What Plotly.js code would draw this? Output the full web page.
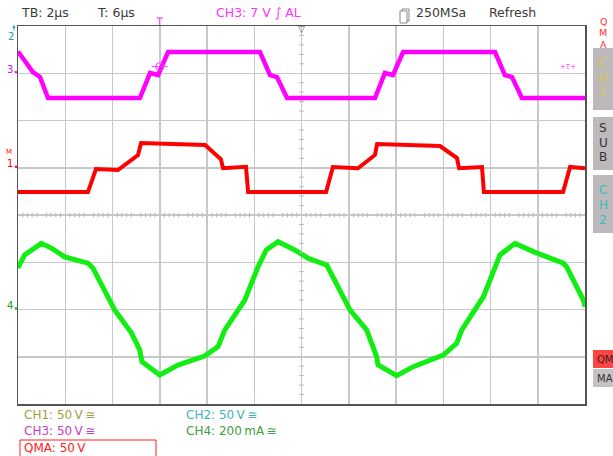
<!DOCTYPE html>
<html>
<head>
<meta charset="utf-8">
<script src="https://cdn.plot.ly/plotly-3.0.1.min.js"></script>
<style>html,body{margin:0;padding:0;background:#fff;}#chart{width:613px;height:456px;}</style>
</head>
<body>
<div id="chart"></div>
<script>
// ---- data (time in µs, relative to screen centre) ----
const ch3Time = [-12.0, -11.37, -11.07, -10.73, -6.84, -6.41, -6.07, -5.65, -1.76, -1.33, -1.04, -0.61, 3.11, 3.53, 3.87, 4.30, 8.19, 8.61, 8.91, 9.33, 12.0];
const ch3Volts = [23, 1.3, -4, -26.2, -26.2, 0.3, -1.9, 22.5, 22.5, -1.9, -4, -26.2, -26.2, 0.3, -1.9, 22.5, 22.5, -1.9, -4, -26.2, -26.2];

const ch1Time = [-12.0, -9.04, -8.70, -7.77, -6.92, -6.79, -4.08, -3.53, -3.41, -3.32, -2.35, -2.26, 1.04, 1.33, 2.39, 3.11, 3.20, 5.86, 6.58, 6.67, 7.64, 7.72, 11.07, 11.37, 12.0];
const ch1Volts = [-25.7, -25.7, -1.3, -2.4, 13.5, 26.2, 24.1, 11.4, 9, -0.5, 1, -25.7, -25.7, 0.8, -0.5, 13.5, 25.1, 23, 10.3, -0.5, 0.8, -25.7, -25.7, 0.8, -0.5];

const ch4Time = [-12.0, -11.72, -11.01, -10.59, -10.02, -9.04, -8.83, -7.91, -7.20, -6.85, -6.75, -6.00, -5.23, -4.10, -3.53, -3.25, -2.40, -1.84, -1.49, -0.99, -0.29, 0.28, 1.07, 2.05, 2.76, 3.18, 3.24, 4.03, 4.73, 6.00, 6.57, 6.78, 7.70, 8.40, 9.04, 9.81, 11.08, 11.22, 11.93, 12.0];
const ch4MilliAmps = [176, 231, 280, 260, 223, 196, 176, -2, -99, -171, -221, -277, -235, -197, -157, -87, 40, 181, 252, 287, 252, 217, 188, -2, -87, -200, -235, -280, -242, -193, -143, -87, 54, 231, 280, 245, 196, 181, 40, 12];

// channel settings
const ch1Scale = 50, ch1Offset = 1;      // V/div, div
const ch3Scale = 50, ch3Offset = 3;
const ch4Scale = 200, ch4Offset = -2;    // mA/div
const triggerTime = -6, triggerLevel = 7; // µs, V on CH3

const topLabels = ["TB: 2µs", "T: 6µs", "CH3: 7 V ∫ AL", "250MSa", "Refresh"];
const bottomLabels = ["CH1: 50\u2009V\u2009≅", "CH2: 50\u2009V\u2009≅", "CH3: 50\u2009V\u2009≅", "CH4: 200\u2009mA\u2009≅", "QMA: 50\u2009V"];

// ---- geometry helpers ----
const L = 18, R = 585, T = 26, B = 404;
const px = x => (x - L) / (R - L);
const py = y => (B - y) / (B - T);
const toDiv = (vals, scale, off) => vals.map(v => off + v / scale);

const font = "DejaVu Sans";
const traces = [
  {x: ch3Time, y: toDiv(ch3Volts, ch3Scale, ch3Offset), mode: "lines", line: {color: "#ff00ff", width: 4.5}, hoverinfo: "skip"},
  {x: ch1Time, y: toDiv(ch1Volts, ch1Scale, ch1Offset), mode: "lines", line: {color: "#ff0000", width: 4}, hoverinfo: "skip"},
  {x: ch4Time, y: toDiv(ch4MilliAmps, ch4Scale, ch4Offset), mode: "lines", line: {color: "#11ee11", width: 5}, hoverinfo: "skip"}
];

const shapes = [];
// minor ticks on centre cross
for (let k = -60; k <= 60; k++) {
  if (k % 5 === 0) continue;
  const t = k * 0.2;
  shapes.push({type: "line", xref: "x", yref: "y", x0: t, x1: t, y0: -0.05, y1: 0.05, line: {color: "#b8b8b8", width: 1}});
}
for (let k = -20; k <= 20; k++) {
  if (k % 5 === 0) continue;
  const d = k * 0.2;
  shapes.push({type: "line", xref: "x", yref: "y", x0: -0.1, x1: 0.1, y0: d, y1: d, line: {color: "#b8b8b8", width: 1}});
}
// trigger circle on CH3
const trigY = ch3Offset + triggerLevel / ch3Scale;
shapes.push({type: "circle", xref: "x", yref: "y", xsizemode: "pixel", ysizemode: "pixel", xanchor: triggerTime, yanchor: trigY, x0: -4, x1: 4, y0: -4, y1: 4, line: {color: "#ff33ff", width: 1}});
shapes.push({type: "line", xref: "x", yref: "y", xsizemode: "pixel", xanchor: triggerTime, x0: -8, x1: 8, y0: trigY, y1: trigY, line: {color: "#ff33ff", width: 1}});
// top trigger position marker
shapes.push({type: "line", xref: "x", yref: "paper", x0: triggerTime, x1: triggerTime, y0: py(25), y1: py(18), line: {color: "#ff33ff", width: 1.2}});
shapes.push({type: "line", xref: "x", yref: "paper", xsizemode: "pixel", xanchor: triggerTime, x0: -3, x1: 3, y0: py(18), y1: py(18), line: {color: "#ff33ff", width: 1.2}});
// sample icon
shapes.push({type: "rect", xref: "paper", yref: "paper", x0: px(402), x1: px(409), y0: py(21), y1: py(9), line: {color: "#888", width: 1}, fillcolor: "#fff"});
shapes.push({type: "rect", xref: "paper", yref: "paper", x0: px(400), x1: px(407), y0: py(23), y1: py(11), line: {color: "#888", width: 1}, fillcolor: "#fff"});
// right panel boxes
const box = (y0, y1, fill) => ({type: "rect", xref: "paper", yref: "paper", x0: px(593), x1: px(616), y0: py(y1), y1: py(y0), line: {width: 0}, fillcolor: fill, layer: "below"});
shapes.push(box(48, 110, "#bcb8bc"), box(117, 170, "#bcb8bc"), box(175, 233, "#bcb8bc"), box(350, 368, "#ff4444"), box(369, 387, "#c4c0c4"));
// QMA red frame bottom
shapes.push({type: "rect", xref: "paper", yref: "paper", x0: px(20), x1: px(156), y0: py(462), y1: py(440), line: {color: "#ff2020", width: 1}});

const ann = [];
const txt = (x, y, s, color, size, anchor) => ann.push({xref: "paper", yref: "paper", x: px(x), y: py(y), text: s, showarrow: false, xanchor: anchor || "left", yanchor: "middle", font: {family: font, size: size || 12, color: color}});
txt(19, 13, topLabels[0], "#3a3a3a", 12.5);
txt(95, 13, topLabels[1], "#3a3a3a", 12.5);
txt(214, 13, topLabels[2], "#ff33ff", 12.5);
txt(414, 13, topLabels[3], "#3a3a3a", 12.5);
txt(487, 13, topLabels[4], "#3a3a3a", 12.5);
ann.push({xref: "x", yref: "paper", x: 0, y: py(22), text: "▽", showarrow: false, font: {family: font, size: 9, color: "#555"}});
txt(22, 415, bottomLabels[0], "#a0a040");
txt(184, 415, bottomLabels[1], "#40b4b4");
txt(22, 431, bottomLabels[2], "#c040c8");
txt(184, 431, bottomLabels[3], "#40a040");
txt(22, 448, bottomLabels[4], "#ff2020");
// right panel letters
[["Q", 22], ["M", 33], ["A", 44]].forEach(a => txt(603, a[1], a[0], "#ff3030", 9.5, "center"));
[["C", 63], ["H", 78], ["1", 92]].forEach(a => txt(603, a[1], a[0], "#d8cc40", 12, "center"));
[["S", 128], ["U", 143], ["B", 157]].forEach(a => txt(603, a[1], a[0], "#333", 12, "center"));
[["C", 190], ["H", 205], ["2", 220]].forEach(a => txt(603, a[1], a[0], "#30c0c0", 12, "center"));
txt(595, 359, "QM", "#402020", 10);
txt(595, 378, "MA", "#333", 10);
// trigger level marker right
ann.push({xref: "paper", yref: "y", x: px(578), y: trigY, text: "+T+", showarrow: false, font: {family: font, size: 7, color: "#ff33ff"}});
// channel ground markers
const marker = (lvl, label, color) => ann.push({xref: "paper", yref: "y", x: 0, y: lvl, text: label, showarrow: true, ax: -8, ay: -4, arrowhead: 2, arrowsize: 0.6, arrowwidth: 1, arrowcolor: color, font: {family: font, size: 10, color: color}});
marker(ch3Offset, "3", "#c020c0");
marker(ch1Offset, "1", "#ff0000");
marker(ch4Offset, "4", "#20a020");
txt(9, 152, "M", "#ff0000", 7, "center");
txt(11, 37, "2", "#20a0a0", 10, "center");
ann.push({xref: "paper", yref: "paper", x: px(14), y: py(25), text: "", showarrow: true, ax: 0, ay: 7, arrowhead: 2, arrowsize: 0.6, arrowwidth: 1, arrowcolor: "#20a0a0"});

const layout = {
  width: 613, height: 456,
  margin: {l: L, r: 613 - R, t: T, b: 456 - B, pad: 0},
  paper_bgcolor: "#ffffff", plot_bgcolor: "#ffffff",
  showlegend: false,
  xaxis: {range: [-12, 12], dtick: 2, tick0: 0, showgrid: true, gridcolor: "#c8c8c8", gridwidth: 1.5, zeroline: false, showticklabels: false, ticks: "", showline: true, mirror: true, linecolor: "#555", linewidth: 1.5, fixedrange: true},
  yaxis: {range: [-4, 4], dtick: 1, tick0: 0, showgrid: true, gridcolor: "#c8c8c8", gridwidth: 1.5, zeroline: false, showticklabels: false, ticks: "", showline: true, mirror: true, linecolor: "#555", linewidth: 1.5, fixedrange: true},
  shapes: shapes,
  annotations: ann,
  font: {family: font}
};
Plotly.newPlot("chart", traces, layout, {displayModeBar: false, staticPlot: true});
</script>
</body>
</html>
